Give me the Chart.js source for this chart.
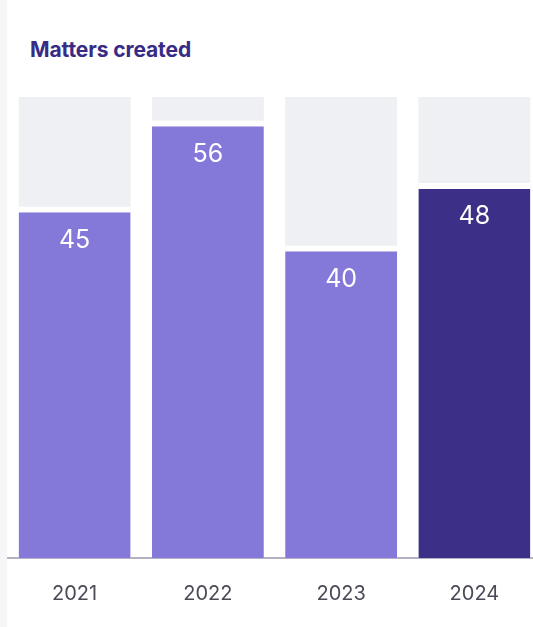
<!DOCTYPE html>
<html>
<head>
<meta charset="utf-8">
<script src="https://cdn.jsdelivr.net/npm/chart.js@4"></script>
<style>
    html, body { margin: 0; padding: 0; background: #fff; overflow: hidden; }
    body { width: 533px; height: 627px; position: relative; }
    #strip { position: absolute; left: 0; top: 0; width: 7px; height: 627px; background: #f6f6f8; }
    #title {
        position: absolute; left: 30px; top: 37px;
        font-family: Inter, "Open Sans", sans-serif; font-weight: 700; font-size: 21px;
        color: #372b86; letter-spacing: -0.1px;
    }
    #wrap { position: absolute; left: 0; top: 0; width: 541px; height: 650px; }
</style>
</head>
<body>
<div id="strip"></div>
<div id="title">Matters created</div>
<div id="wrap"><canvas id="chart"></canvas></div>
<script>
const years = ["2021", "2022", "2023", "2024"];
const matters = [45, 56, 40, 48];
const trackMax = [59, 59, 59, 59];
const barColors = ["#8479d9", "#8479d9", "#8479d9", "#3b2f88"];

// draws the number inside each coloured bar
const valueLabels = {
    id: "valueLabels",
    afterDatasetsDraw(chart) {
        const ctx = chart.ctx;
        const meta = chart.getDatasetMeta(0);
        ctx.save();
        ctx.fillStyle = "#ffffff";
        ctx.font = "400 25px Inter, sans-serif";
        ctx.textAlign = "center";
        ctx.textBaseline = "middle";
        meta.data.forEach((bar, i) => {
            ctx.fillText(String(matters[i]), bar.x, bar.y + 6 + 28);
        });
        ctx.restore();
    }
};

new Chart(document.getElementById("chart").getContext("2d"), {
    type: "bar",
    data: {
        labels: years,
        datasets: [
            {
                data: matters,
                backgroundColor: barColors,
                borderColor: "#ffffff",
                borderWidth: { top: 6, left: 0, right: 0, bottom: 0 },
                borderSkipped: "start",
                grouped: false,
                order: 0
            },
            {
                data: trackMax,
                backgroundColor: "#eff0f4",
                borderWidth: 0,
                grouped: false,
                order: 1
            }
        ]
    },
    options: {
        responsive: true,
        maintainAspectRatio: false,
        animation: false,
        datasets: { bar: { categoryPercentage: 1, barPercentage: 0.84 } },
        layout: { padding: { top: 97, left: 8, right: 0, bottom: 20 } },
        plugins: { legend: { display: false }, tooltip: { enabled: false } },
        scales: {
            x: {
                grid: { display: false, drawTicks: false },
                border: { display: true, color: "#b4b2c2", width: 2 },
                ticks: {
                    padding: 24,
                    color: "#4a4a56",
                    font: { family: "Inter", size: 20, weight: "400" }
                }
            },
            y: { display: false, min: 0, max: 59 }
        }
    },
    plugins: [valueLabels]
});
</script>
</body>
</html>
